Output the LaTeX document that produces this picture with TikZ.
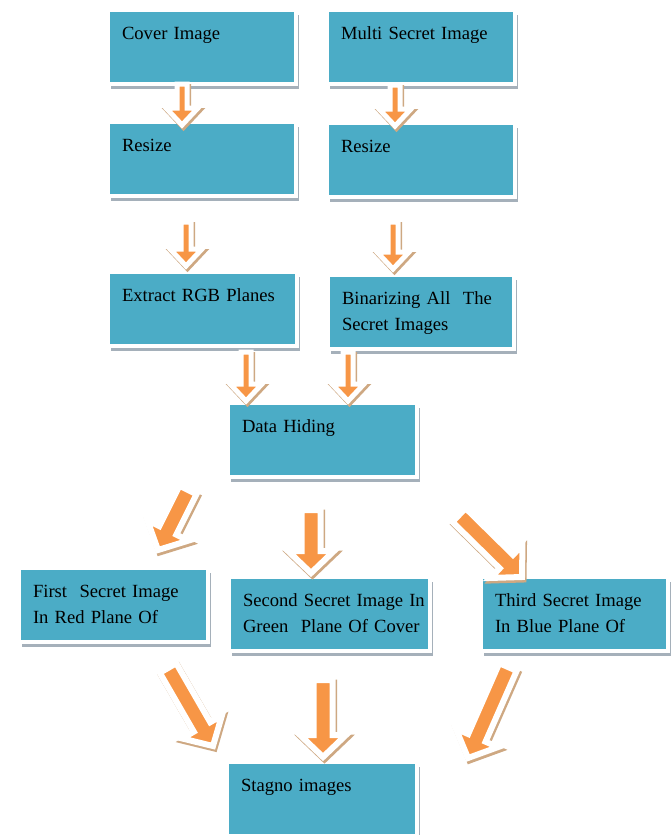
\documentclass[tikz,border=0pt]{standalone}
\usepackage{fontspec}
\setmainfont{Liberation Serif}
\usetikzlibrary{calc,shadows}

\definecolor{boxblue}{RGB}{75,172,198}
\definecolor{arrorange}{RGB}{247,150,70}
\definecolor{arrtan}{RGB}{206,168,130}
\definecolor{boxshadow}{RGB}{165,176,186}

\tikzset{
  stage/.style={draw=white, line width=4pt, fill=boxblue, inner sep=0pt,
    text width=#1, text height=29pt, text depth=45pt, align=left,
    anchor=north west, font=\fontsize{18.6}{26}\selectfont,
    execute at begin node={\leftskip=14pt},
    drop shadow={shadow xshift=3pt, shadow yshift=-5pt, fill=boxshadow, opacity=1}},
  stage/.default=188,
  arrowshape/.style n args={3}{to path={
    ($(\tikztostart)!#1!90:(\tikztotarget)$)
    -- ($(\tikztotarget)!#3!(\tikztostart)!#1!90:(\tikztotarget)$)
    -- ($(\tikztotarget)!#3!(\tikztostart)!#2!90:(\tikztotarget)$)
    -- (\tikztotarget)
    -- ($(\tikztotarget)!#3!(\tikztostart)!#2!-90:(\tikztotarget)$)
    -- ($(\tikztotarget)!#3!(\tikztostart)!#1!-90:(\tikztotarget)$)
    -- ($(\tikztostart)!#1!-90:(\tikztotarget)$) -- cycle}},
  thinarrow/.style={arrowshape={5pt}{16pt}{17pt}, line width=5pt},
  fatarrow/.style={arrowshape={9.5pt}{23pt}{22pt}, line width=6pt},
  arrback/.style={draw=arrtan, fill=arrtan, transform canvas={shift={(1.5,2.5)}}},
  arrfront/.style={draw=white, fill=arrorange}
}

\begin{document}
\begin{tikzpicture}[x=1pt, y=-1pt]
  \path[use as bounding box, fill=white] (0,0) rectangle (670,835);

  % stages
  \node[stage] (cover)    at (106,8)   {Cover Image};
  \node[stage] (multi)    at (325,8)   {Multi Secret Image};
  \node[stage] (resizeL)  at (106,120) {Resize};
  \node[stage] (resizeR)  at (325,121) {Resize};
  \node[stage=189] (extract)  at (106,270) {Extract RGB Planes};
  \node[stage=186] (binarize) at (326,273) {Binarizing All~ The\\Secret Images};
  \node[stage=189] (hiding)   at (226,401) {Data Hiding};
  \node[stage=189] (first)    at (17,566)  {First~ Secret Image\\In Red Plane Of};
  \node[stage=201] (second)   at (227,575) {Second Secret Image In\\Green~ Plane Of Cover};
  \node[stage=187] (third)    at (479,575) {Third Secret Image\\In Blue Plane Of};
  \node[stage=190] (stagno)   at (225,760) {Stagno images};

  % arrow ends
  \coordinate (a1) at (182,84);  \coordinate (b1) at (182,125);
  \coordinate (a2) at (395,85);  \coordinate (b2) at (395,126);
  \coordinate (a3) at (186,222); \coordinate (b3) at (186,266);
  \coordinate (a4) at (393,222); \coordinate (b4) at (393,269);
  \coordinate (a5) at (246,352); \coordinate (b5) at (246,401);
  \coordinate (a6) at (348,352); \coordinate (b6) at (348,401);
  \coordinate (a7) at (188,490); \coordinate (b7) at (158,550);
  \coordinate (a8) at (311,510); \coordinate (b8) at (311,573);
  \coordinate (a9) at (459,515); \coordinate (b9) at (522,577);
  \coordinate (a10) at (168,668); \coordinate (b10) at (213,746);
  \coordinate (a11) at (323,680); \coordinate (b11) at (323,757);
  \coordinate (a12) at (508,667); \coordinate (b12) at (468,758);

  \foreach \s/\t in {a1/b1,a2/b2,a3/b3,a4/b4,a5/b5,a6/b6}{
    \draw[thinarrow, arrback] (\s) to (\t);
    \draw[thinarrow, arrfront] (\s) to (\t);
  }
  \foreach \s/\t in {a7/b7,a8/b8,a9/b9,a10/b10,a11/b11,a12/b12}{
    \draw[fatarrow, arrback] (\s) to (\t);
    \draw[fatarrow, arrfront] (\s) to (\t);
  }
\end{tikzpicture}
\end{document}
